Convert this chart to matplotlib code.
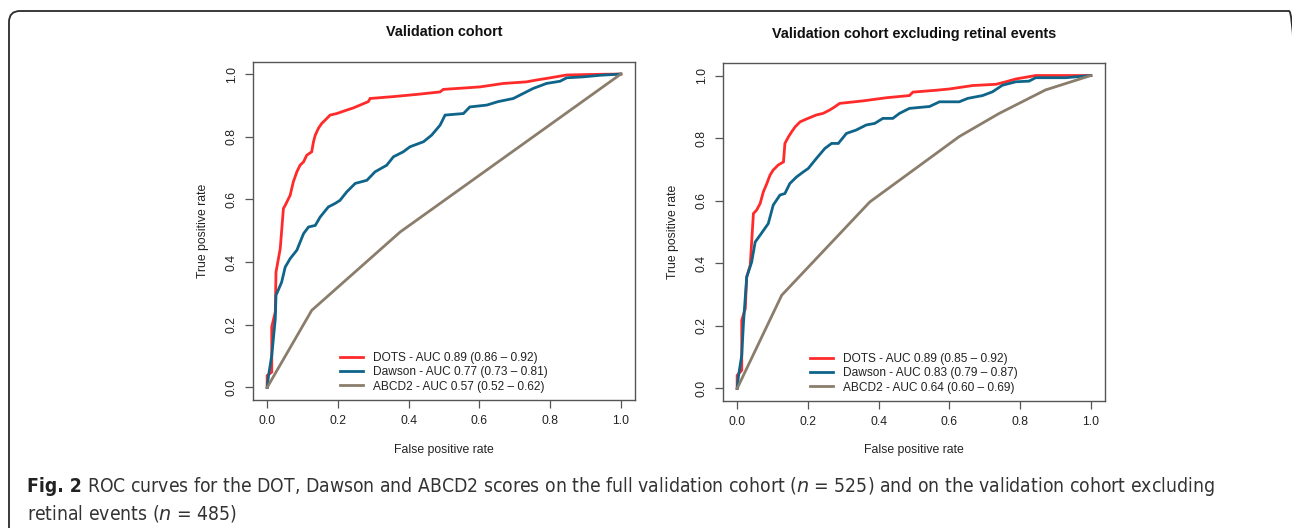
import matplotlib
matplotlib.use("Agg")
import matplotlib.pyplot as plt
from matplotlib.patches import FancyBboxPatch
from matplotlib.lines import Line2D

plt.rcParams['font.family'] = ['Liberation Sans', 'DejaVu Sans']

titles = ["Validation cohort", "Validation cohort excluding retinal events"]

# ---- Left panel: full validation cohort ----
dots1_fpr = [0, 0, 0.013, 0.013, 0.023, 0.025, 0.037, 0.046, 0.051, 0.065, 0.074, 0.084, 0.093,
             0.103, 0.112, 0.126, 0.131, 0.136, 0.145, 0.154, 0.164, 0.178, 0.197, 0.225, 0.244,
             0.263, 0.286, 0.291, 0.357, 0.423, 0.489, 0.498, 0.564, 0.602, 0.668, 0.733, 0.762,
             0.790, 0.847, 0.936, 1.0]
dots1_tpr = [0, 0.038, 0.049, 0.193, 0.241, 0.368, 0.443, 0.571, 0.581, 0.613, 0.656, 0.688, 0.709,
             0.720, 0.741, 0.752, 0.784, 0.805, 0.827, 0.842, 0.853, 0.869, 0.874, 0.885, 0.892,
             0.901, 0.912, 0.922, 0.928, 0.935, 0.943, 0.951, 0.956, 0.959, 0.970, 0.975, 0.981,
             0.986, 0.997, 0.999, 1.0]
daw1_fpr = [0, 0.004, 0.013, 0.023, 0.025, 0.041, 0.051, 0.065, 0.084, 0.103, 0.117, 0.136, 0.150,
            0.173, 0.192, 0.206, 0.225, 0.249, 0.282, 0.305, 0.338, 0.357, 0.385, 0.404, 0.442,
            0.465, 0.489, 0.503, 0.555, 0.573, 0.621, 0.653, 0.696, 0.724, 0.752, 0.790, 0.828,
            0.847, 0.894, 0.941, 1.0]
daw1_tpr = [0, 0.038, 0.102, 0.219, 0.294, 0.336, 0.384, 0.411, 0.438, 0.491, 0.512, 0.517, 0.544,
            0.576, 0.587, 0.597, 0.624, 0.651, 0.661, 0.688, 0.709, 0.736, 0.752, 0.768, 0.784,
            0.805, 0.837, 0.869, 0.874, 0.895, 0.901, 0.912, 0.922, 0.938, 0.954, 0.970, 0.977,
            0.988, 0.991, 0.996, 1.0]
abcd1_fpr = [0, 0.126, 0.376, 1.0]
abcd1_tpr = [0, 0.246, 0.496, 1.0]

# ---- Right panel: excluding retinal events ----
dots2_fpr = [0, 0, 0.013, 0.013, 0.023, 0.027, 0.037, 0.041, 0.046, 0.055, 0.065, 0.074, 0.084,
             0.093, 0.102, 0.116, 0.131, 0.135, 0.145, 0.154, 0.164, 0.178, 0.196, 0.224, 0.243,
             0.262, 0.276, 0.290, 0.356, 0.422, 0.487, 0.497, 0.563, 0.600, 0.666, 0.732, 0.760,
             0.788, 0.844, 1.0]
dots2_tpr = [0, 0.042, 0.058, 0.218, 0.255, 0.356, 0.394, 0.468, 0.559, 0.570, 0.591, 0.628, 0.655,
             0.682, 0.698, 0.714, 0.724, 0.783, 0.804, 0.820, 0.836, 0.852, 0.861, 0.874, 0.879,
             0.890, 0.900, 0.911, 0.919, 0.929, 0.936, 0.947, 0.953, 0.957, 0.968, 0.972, 0.980,
             0.989, 1.0, 1.0]
daw2_fpr = [0, 0.004, 0.013, 0.018, 0.027, 0.041, 0.051, 0.065, 0.088, 0.102, 0.121, 0.135, 0.149,
            0.168, 0.187, 0.201, 0.224, 0.248, 0.267, 0.286, 0.309, 0.337, 0.365, 0.389, 0.412,
            0.440, 0.459, 0.487, 0.544, 0.572, 0.628, 0.652, 0.694, 0.722, 0.750, 0.788, 0.825,
            0.844, 0.929, 1.0]
daw2_tpr = [0, 0.042, 0.106, 0.212, 0.356, 0.404, 0.468, 0.490, 0.527, 0.586, 0.618, 0.623, 0.655,
            0.676, 0.692, 0.703, 0.735, 0.767, 0.783, 0.783, 0.815, 0.826, 0.842, 0.847, 0.863,
            0.863, 0.879, 0.895, 0.901, 0.916, 0.916, 0.927, 0.936, 0.948, 0.969, 0.980, 0.982,
            0.993, 0.993, 1.0]
abcd2_fpr = [0, 0.126, 0.375, 0.628, 0.741, 0.872, 1.0]
abcd2_tpr = [0, 0.298, 0.596, 0.805, 0.879, 0.954, 1.0]

labels1 = ["DOTS - AUC 0.89 (0.86 \u2013 0.92)", "Dawson - AUC 0.77 (0.73 \u2013 0.81)",
           "ABCD2 - AUC 0.57 (0.52 \u2013 0.62)"]
labels2 = ["DOTS - AUC 0.89 (0.85 \u2013 0.92)", "Dawson - AUC 0.83 (0.79 \u2013 0.87)",
           "ABCD2 - AUC 0.64 (0.60 \u2013 0.69)"]

ticks = [0.0, 0.2, 0.4, 0.6, 0.8, 1.0]
tick_labels = ["0.0", "0.2", "0.4", "0.6", "0.8", "1.0"]

colors = ["#FF2A2A", "#0E6489", "#8B7D6B"]

W, H = 1292, 528
fig = plt.figure(figsize=(W / 100, H / 100), dpi=100)

# rounded border, open toward the bottom and right edges (display coords: origin bottom-left)
border = FancyBboxPatch((9, -100), 1300 - 9, H - 11 + 100,
                        boxstyle="round,pad=0,rounding_size=11",
                        transform=None, fill=False, edgecolor="#2b2b2b", linewidth=1.3)
fig.patches.append(border)

axes_pos = [[253 / W, 1 - 400 / H, 382 / W, 338.5 / H],
            [723 / W, 1 - 401 / H, 382 / W, 338 / H]]
data = [
    [(dots1_fpr, dots1_tpr), (daw1_fpr, daw1_tpr), (abcd1_fpr, abcd1_tpr)],
    [(dots2_fpr, dots2_tpr), (daw2_fpr, daw2_tpr), (abcd2_fpr, abcd2_tpr)],
]
legend_labels = [labels1, labels2]
ylabel_x = [203, 673]
title_y = [32, 34]

for i in range(2):
    ax = fig.add_axes(axes_pos[i])
    for (fx, ty), c in zip(data[i], colors):
        ax.plot(fx, ty, color=c, linewidth=2.0, solid_joinstyle='miter')
    ax.set_xlim(-0.04, 1.04)
    ax.set_ylim(-0.04, 1.04)
    ax.set_xticks(ticks)
    ax.set_xticklabels(tick_labels)
    ax.set_yticks(ticks)
    ax.set_yticklabels(tick_labels, rotation=90, va='center')
    ax.tick_params(direction='out', length=6, width=0.9, color="#555555",
                   labelsize=8.8, labelcolor="#222222", pad=5)
    for s in ax.spines.values():
        s.set_color("#555555")
        s.set_linewidth(1.0)
    x0, y0, w, h = axes_pos[i]
    fig.text(x0 + w / 2, 1 - title_y[i] / H, titles[i], ha='center', va='center',
             fontsize=10.4, fontweight='bold', color="#111111")
    fig.text(x0 + w / 2, 1 - 450 / H, "False positive rate", ha='center', va='center',
             fontsize=8.8, color="#222222")
    fig.text(ylabel_x[i] / W, y0 + h / 2, "True positive rate", ha='center', va='center',
             rotation=90, fontsize=8.8, color="#222222")
    handles = [Line2D([0], [0], color=c, linewidth=2.0) for c in colors]
    leg = ax.legend(handles, legend_labels[i], loc='lower left',
                    bbox_to_anchor=(0.205, -0.003), frameon=False, fontsize=8.6,
                    handlelength=1.95, handletextpad=0.85, labelspacing=0.2,
                    borderaxespad=0.3)
    for t in leg.get_texts():
        t.set_color("#222222")

cap_kw = dict(family='DejaVu Sans', stretch='condensed', fontsize=13.9, va='center')
fig.canvas.draw()
r = fig.canvas.get_renderer()
t_fig = fig.text(27 / W, 1 - 486 / H, "Fig. 2", ha='left', fontweight='bold',
                 color="#222222", **cap_kw)
bb = t_fig.get_window_extent(renderer=r)
fig.text((bb.x1 + 5) / W, 1 - 486 / H,
         "ROC curves for the DOT, Dawson and ABCD2 scores on the full validation cohort "
         "($n$ = 525) and on the validation cohort excluding",
         ha='left', color="#333333", fontweight='light', **cap_kw)
fig.text(27 / W, 1 - 513 / H, "retinal events ($n$ = 485)", ha='left',
         color="#333333", fontweight='light', **cap_kw)

fig.savefig("out.png", dpi=100)
